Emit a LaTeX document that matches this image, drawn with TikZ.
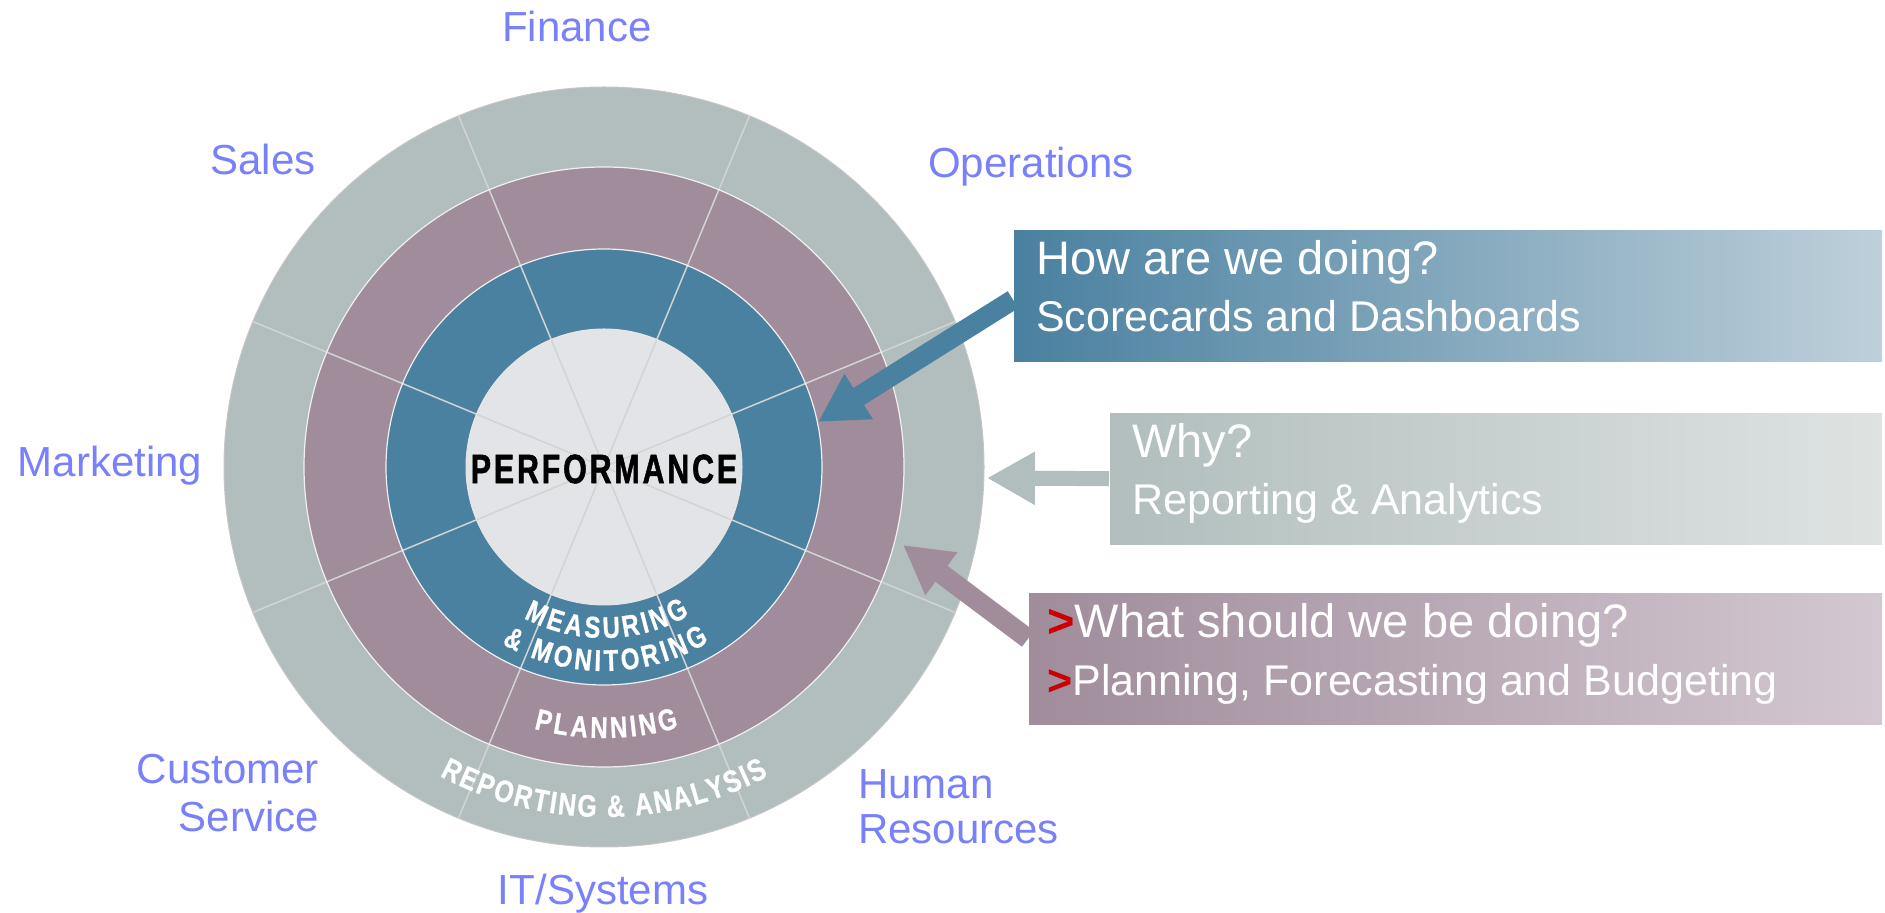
\documentclass[tikz,border=0pt]{standalone}
\usepackage{fontspec}
\setmainfont{Liberation Sans}
\newfontfamily\condfont[FakeStretch=0.8,FakeBold=0.8]{Liberation Sans}
\newfontfamily\perffont[FakeStretch=0.74,FakeBold=1.2]{Liberation Sans}
\usetikzlibrary{arrows.meta,decorations.text}

\definecolor{ringgray}{RGB}{177,190,189}
\definecolor{ringpurple}{RGB}{160,140,155}
\definecolor{ringblue}{RGB}{74,128,160}
\definecolor{ringcore}{RGB}{227,228,232}
\definecolor{labelblue}{RGB}{120,128,250}
\definecolor{spokegray}{RGB}{210,212,212}
\definecolor{boxblueR}{RGB}{190,208,218}
\definecolor{boxgrayR}{RGB}{222,227,226}
\definecolor{boxpurpleR}{RGB}{211,200,210}
\definecolor{markred}{RGB}{204,0,0}

\newcommand\ringfontA{\color{white}\condfont\bfseries\fontsize{30}{30}\selectfont}
\newcommand\ringfontB{\color{white}\condfont\bfseries\fontsize{31}{31}\selectfont}

\begin{document}
\begin{tikzpicture}[x=1pt,y=1pt,
  dept/.style={text=labelblue, font=\fontsize{42}{48}\selectfont, inner sep=0pt},
  qbox/.style={anchor=north west, inner sep=0pt, minimum height=131pt},
  qbig/.style={text=white, anchor=base west, inner sep=0pt, font=\fontsize{47}{50}\selectfont},
  qsmall/.style={text=white, anchor=base west, inner sep=0pt, font=\fontsize{43}{46}\selectfont},
  fatarrow/.style={line cap=butt, -{Triangle[length=48pt,width=50pt]}},
  ringline/.style={draw=white!88!gray, line width=1.2pt},
  spoke/.style={draw=spokegray, line width=1.5pt}
]
\useasboundingbox (0,0) rectangle (1885,913);

\coordinate (c) at (604,446);

% rings
\fill[ringgray] (c) circle[radius=380pt];
\fill[ringpurple] (c) circle[radius=300pt];
\fill[ringblue] (c) circle[radius=218pt];
\fill[ringcore] (c) circle[radius=138pt];

% spokes
\foreach \a in {22.5,67.5,...,337.5}
  \draw[spoke] (c) -- ++(\a:380pt);

% ring borders
\draw[draw=gray!45, line width=1pt] (c) circle[radius=380pt];
\draw[ringline] (c) circle[radius=300pt];
\draw[ringline] (c) circle[radius=218pt];
\draw[draw=white!80!gray, line width=1pt] (c) circle[radius=138pt];

% centre text
\node[inner sep=0pt, text=black] (perf) at (604,444)
  {\perffont\bfseries\fontsize{41}{41}\selectfont\addfontfeature{LetterSpace=7}PERFORMANCE};

% curved ring texts
\path[decorate, decoration={text along path, text={|\ringfontA|MEASURING}, text align={fit to path}}]
  ([shift={(242:171pt)}]c) arc[start angle=242, end angle=300, radius=171pt];
\path[decorate, decoration={text along path, text={|\ringfontA|{\&} MONITORING}, text align={fit to path}}]
  ([shift={(240:204pt)}]c) arc[start angle=240, end angle=301, radius=204pt];
\path[decorate, decoration={text along path, text={|\ringfontA|PLANNING}, text align={fit to path}}]
  ([shift={(255:271pt)}]c) arc[start angle=255, end angle=286, radius=271pt];
\path[decorate, decoration={text along path, text={|\ringfontB|REPORTING {\&} ANALYSIS}, text align={fit to path}}]
  ([shift={(242:350pt)}]c) arc[start angle=242, end angle=298, radius=350pt];

% department labels
\node[dept, anchor=base] (fin) at (577,871) {Finance};
\node[dept, anchor=base] (sales) at (263,738) {Sales};
\node[dept, anchor=base] (ops) at (1031,735) {Operations};
\node[dept, anchor=base] (mkt) at (110,436) {Marketing};
\node[dept, anchor=base east] (cs1) at (319,129) {Customer};
\node[dept, anchor=base east] (cs2) at (319,81) {Service};
\node[dept, anchor=base west] (hr1) at (858,114) {Human};
\node[dept, anchor=base west] (hr2) at (858,69) {Resources};
\node[dept, anchor=base] (it) at (603,9) {IT/Systems};

% arrow targets
\coordinate (t1) at (818,491);
\coordinate (t2) at (987,435);
\coordinate (t3) at (903,368);

% boxes
\node[qbox, minimum width=868pt, left color=ringblue, right color=boxblueR] (b1) at (1014,683) {};
\node[qbox, minimum width=772pt, left color=ringgray, right color=boxgrayR] (b2) at (1110,500) {};
\node[qbox, minimum width=853pt, left color=ringpurple, right color=boxpurpleR] (b3) at (1029,320) {};

% arrows from boxes to rings
\draw[fatarrow, draw=ringblue, fill=ringblue, line width=20pt] ([xshift=-1pt,yshift=-4pt]b1.west) -- (t1);
\draw[fatarrow, draw=ringgray, fill=ringgray, line width=15pt] ([xshift=-1pt]b2.west) -- (t2);
\draw[fatarrow, draw=ringpurple, fill=ringpurple, line width=20pt] ([xshift=-1pt,yshift=20pt]b3.west) -- (t3);

% box texts
\node[qbig] (b1a) at (1036,638) {How are we doing?};
\node[qsmall] (b1b) at (1036,581) {Scorecards and Dashboards};
\node[qbig] (b2a) at (1132,455) {Why?};
\node[qsmall] (b2b) at (1132,398) {Reporting \& Analytics};
\node[qbig] (b3a) at (1047,275) {{\color{markred}\bfseries >}What should we be doing?};
\node[qsmall] (b3b) at (1047,217) {{\color{markred}\bfseries >}Planning, Forecasting and Budgeting};
\end{tikzpicture}
\end{document}
